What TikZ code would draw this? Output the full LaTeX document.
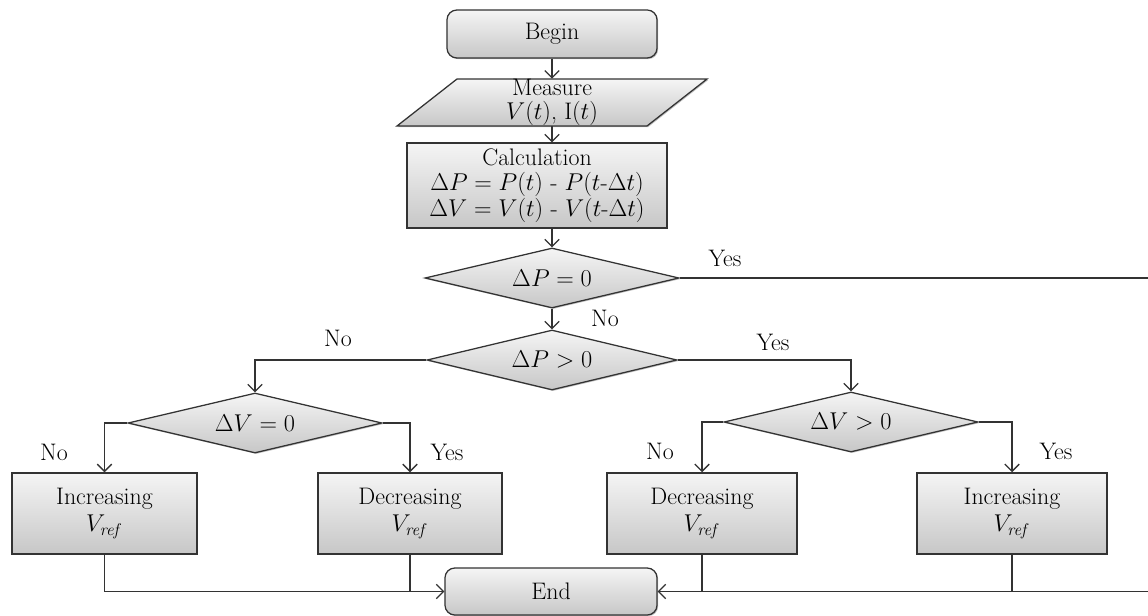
\documentclass[tikz,border=0pt]{standalone}
\usepackage{tikz}
\usetikzlibrary{arrows.meta,positioning,shapes.geometric,shadows}

\begin{document}
\begin{tikzpicture}[x=0.025cm,y=-0.025cm,
  font=\fontsize{17}{18}\selectfont,
  blk/.style={draw=black!80,line width=0.9pt,top color=black!4,bottom color=black!22,align=center,inner sep=1pt,
    drop shadow={shadow xshift=0.8pt,shadow yshift=-0.8pt,opacity=0.5}},
  term/.style={blk,rounded corners=7pt,minimum width=5.25cm,minimum height=1.2cm},
  proc/.style={blk,minimum height=2.03cm},
  dec/.style={blk,diamond,aspect=4,minimum width=6.35cm,minimum height=1.5cm,inner sep=0pt},
  arr/.style={-{Straight Barb[length=1.8mm,width=3.6mm]},draw=black!80,line width=0.9pt},
  ln/.style={draw=black!80,line width=0.9pt},
  lab/.style={inner sep=1pt}]
\useasboundingbox (0,0) rectangle (1148,616);
% main column
\node[term] (begin) at (552,34) {Begin};
\path[blk] (397,126) -- (647,126) -- (707,79) -- (457,79) -- cycle;
\node[minimum width=6.25cm,minimum height=1.175cm,align=center,inner sep=0pt] (meas) at (552,102.5)
  {Measure\\[-1pt]$V(t)$, I$(t)$};
\node[blk,minimum width=6.5cm,minimum height=2.125cm] (calc) at (537,185.5)
  {Calculation\\$\Delta P = P(t)$ - $P(t$-$\Delta t)$\\$\Delta V = V(t)$ - $V(t$-$\Delta t)$};
\node[dec] (d1) at (552,278) {$\Delta P = 0$};
\node[dec,minimum width=6.25cm] (d2) at (552,360) {$\Delta P > 0$};
% branches
\node[dec] (d3) at (255,423) {$\Delta V = 0$};
\node[dec] (d4) at (851,422) {$\Delta V > 0$};
\node[proc,minimum width=4.625cm] (inc1) at (104.5,513.5) {Increasing\\[1pt]$V_{\mathit{ref}}$};
\node[proc,minimum width=4.6cm]   (dec1) at (410,513.5)   {Decreasing\\[1pt]$V_{\mathit{ref}}$};
\node[proc,minimum width=4.75cm]  (dec2) at (702,513.5)   {Decreasing\\[1pt]$V_{\mathit{ref}}$};
\node[proc,minimum width=4.75cm]  (inc2) at (1012,513.5)  {Increasing\\[1pt]$V_{\mathit{ref}}$};
\node[term,minimum width=5.3cm,minimum height=1.175cm] (end) at (551,591.5) {End};
\coordinate (rt) at (1152,278);
% labels
\node[lab] (y1) at (725,258)  {Yes};
\node[lab] (n1) at (605,318)  {No};
\node[lab] (n2) at (338,338)  {No};
\node[lab] (y2) at (773,342)  {Yes};
\node[lab] (n3) at (54,452)   {No};
\node[lab] (y3) at (447,452)  {Yes};
\node[lab] (n4) at (660,451)  {No};
\node[lab] (y4) at (1056,451) {Yes};
% flow
\draw[arr] (begin) -- (meas);
\draw[arr] (meas) -- (meas |- calc.north);
\draw[arr] (d1.north |- calc.south) -- (d1);
\draw[arr] (d1) -- (d2);
\draw[arr] (d2.west) -| (d3.north);
\draw[arr] (d2.east) -| (d4.north);
\draw[arr] (d3.west) -| (inc1.north);
\draw[arr] (d3.east) -| (dec1.north);
\draw[arr] (d4.west) -| (dec2.north);
\draw[arr] (d4.east) -| (inc2.north);
% into End
\draw[arr] (inc1.south) |- (end.west);
\draw[ln] (dec1.south) -- (dec1.south |- end.west);
\draw[ln] (dec2.south) -- (dec2.south |- end.east);
\draw[ln] (inc2.south) -- (inc2.south |- end.east);
\draw[arr] (d1.east) -- (rt) |- (end.east);
\end{tikzpicture}
\end{document}
